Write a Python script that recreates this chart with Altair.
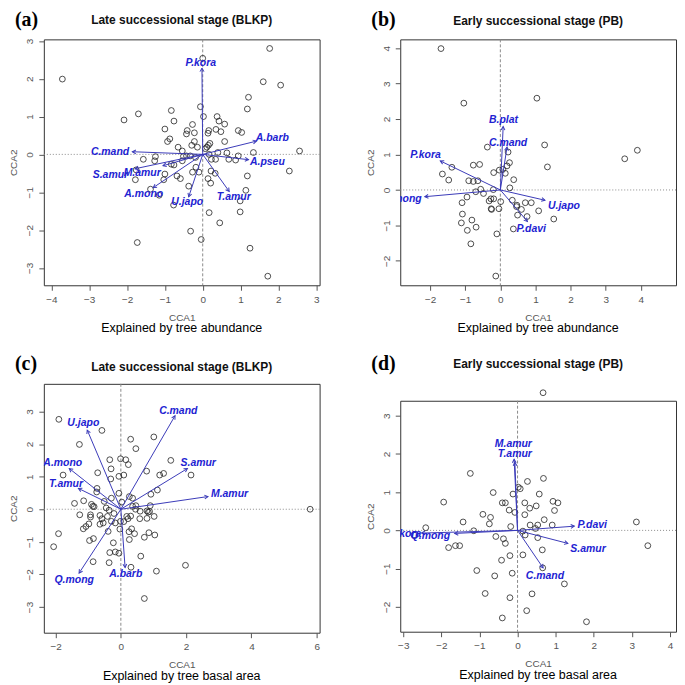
import math
import altair as alt
import pandas as pd

FONT = "Liberation Sans"
SERIF = "Liberation Serif"
ARROW = "#3a3ab8"
LABEL = "#2222d2"

# ---------------- panel (a) ----------------
a_px = [-3.71, 1.77, 1.60, 2.06, 0.00, 1.21, 1.18, -0.06, -1.70, -2.08, -0.83, -0.76, -1.00, -0.27, -0.41, -0.43,
        -0.87, -0.93, 0.02, 0.38, 0.43, 0.58, 0.35, 0.48, 0.58, 0.16, 0.14, -0.22, -0.22, 0.07, 0.11, 0.15, 0.19,
        -0.29, -0.14, -0.65, -0.54, -0.43, -0.33, 0.94, 1.03, 1.34, 0.94, 2.56, 2.29, 0.40, 0.64, 0.69, 0.87, 1.18,
        1.14, 0.99, 0.99, 0.17, 0.23, 0.34, 0.22, 0.33, 0.14, 0.21, 0.17, 0.45, -0.32, -0.04, 1.25, 1.72, -1.73,
        -1.25, -1.27, -1.57, -0.83, -0.76, -0.54, -0.51, -0.19, -0.18, -0.27, -0.10, -0.68, -0.59, -1.00, -1.03,
        -1.78, -1.38, -1.15, -0.37, -0.77, -1.76]
a_py = [1.99, 2.80, 1.92, 1.83, 2.54, 1.51, 1.20, 1.26, 1.07, 0.91, 1.16, 0.88, 0.67, 0.79, 0.63, 0.54,
        0.41, 0.34, 1.00, 1.00, 0.88, 0.80, 0.66, 0.60, 0.34, 0.63, 0.56, 0.57, 0.34, 0.15, 0.19, 0.24, 0.29,
        0.24, 0.19, 0.19, 0.09, -0.04, -0.04, 0.63, 0.58, 0.05, -0.04, 0.09, -0.44, 0.05, 0.04, -0.13, -0.15, -0.57,
        -0.95, -1.23, -1.52, 0.00, -0.13, -0.13, -0.44, -0.50, -0.64, -0.76, -1.54, -1.81, -2.03, -2.25, -2.48, -3.22, -2.33,
        -0.06, -0.17, -0.13, -0.26, -0.28, -0.17, -0.05, -0.08, -0.34, -0.47, -0.47, -0.57, -0.64, -0.52, -0.67,
        -0.67, -0.92, -1.08, -0.84, -1.34, -0.41]
a_sp = ["P.kora", "A.barb", "A.pseu", "T.amur", "U.japo", "A.mono", "M.amur", "S.amur", "C.mand"]
a_ax = [-0.02, 1.42, 1.21, 0.70, -0.37, -1.31, -1.05, -1.79, -1.86]
a_ay = [2.28, 0.35, -0.14, -0.98, -1.12, -0.88, -0.30, -0.38, 0.07]
a_lx = [-0.05, 1.84, 1.71, 0.82, -0.41, -1.56, -1.60, -2.44, -2.45]
a_ly = [2.41, 0.44, -0.19, -1.14, -1.27, -1.04, -0.48, -0.54, 0.06]
a_xticks = [-4, -3, -2, -1, 0, 1, 2, 3]
a_yticks = [-3, -2, -1, 0, 1, 2, 3]

# ---------------- panel (b) ----------------
b_px = [-1.69, -1.04, 1.04, 1.26, 1.34, 3.54, 3.90, -0.37, 0.22, -0.77, -0.59, -0.19, -0.03, 0.07, 0.26, 0.19,
        0.14, 0.38, 0.27, -1.38, -1.65, -1.47, -0.90, -0.77, -0.64, -0.56, -0.70, -0.48, -0.20, -0.95, -1.09,
        -1.08, -1.11, -0.81, -0.94, -0.69, -0.84, -0.32, -0.27, -0.19, -0.26, -0.25, -0.04, 0.01, -0.10, -0.13,
        0.34, 0.47, 0.49, 0.37, 0.71, 0.88, 0.76, 1.09, 1.52, 0.46, 0.60]
b_py = [3.99, 2.45, 2.59, 1.27, 0.65, 0.88, 1.12, 1.21, 1.07, 0.70, 0.72, 0.49, 0.56, 0.58, 0.77, 0.68,
        0.47, 0.29, 0.06, 0.64, 0.45, 0.28, 0.26, 0.24, 0.26, 0.02, -0.05, -0.10, 0.01, -0.20, -0.36,
        -0.68, -0.93, -0.85, -1.14, -1.05, -1.52, -0.31, -0.25, -0.25, -0.53, -0.55, -0.53, -0.33, -1.24, -2.43,
        -0.29, -0.43, -0.71, -1.10, -0.36, -0.36, -0.75, -0.59, -0.82, -0.47, -0.55]
b_sp = ["B.plat", "C.mand", "P.kora", "Q.mong", "U.japo", "P.davi"]
b_ax = [0.08, 0.19, -1.71, -2.15, 1.27, 0.77]
b_ay = [1.79, 1.21, 0.82, -0.19, -0.29, -0.89]
b_lx = [0.09, 0.22, -2.13, -2.80, 1.81, 0.88]
b_ly = [1.97, 1.33, 0.98, -0.25, -0.45, -1.10]
b_xticks = [-2, -1, 0, 1, 2, 3, 4]
b_yticks = [-2, -1, 0, 1, 2, 3, 4]

# ---------------- panel (c) ----------------
c_px = [-1.90, -1.27, -0.58, 0.30, 1.01, 0.46, -0.01, 0.15, 0.23, -0.34, -0.30, 0.09, -0.06, -0.31, -0.71, -0.73,
        -0.74, -1.77, 1.53, 2.15, 1.31, 1.19, 0.79, 1.12, 0.92, -0.06, -0.29, 0.26, 0.36, -0.51, -1.14, -1.42,
        0.03, -0.45, -0.36, -0.90, -0.86, -0.82, -1.26, -0.93, -0.93, -0.64, -0.58, -0.54, -0.64, -0.98, -1.07,
        -1.15, -0.41, -0.29, -0.17, -0.01, -0.03, -0.39, -0.84, -0.96, -1.91, -2.06, -0.85, -0.23, -0.34, -0.36,
        -0.17, -0.06, 0.31, 0.36, 0.46, 0.59, 0.45, 0.22, 0.30, 0.18, 0.58, 0.80, 0.84, 0.88, 0.90, 1.02, 0.80,
        0.33, 0.25, 0.42, 0.86, 0.72, 1.04, 0.26, 0.61, 1.09, 1.98, 0.72, 5.80, -0.21, 0.09]
c_py = [2.76, 1.99, 2.42, 2.15, 2.22, 1.86, 1.55, 1.52, 1.37, 1.52, 1.24, 1.05, 1.01, 0.93, 1.12, 0.64,
        0.53, 1.05, 1.50, 1.05, 1.10, 1.05, 1.17, 0.59, 0.46, 0.49, 0.34, 0.39, 0.34, 0.24, 0.26, 0.18,
        0.22, 0.04, -0.03, 0.15, 0.09, 0.08, -0.17, -0.17, -0.24, -0.19, -0.29, -0.42, -0.46, -0.45, -0.53,
        -0.60, -0.22, -0.37, -0.42, -0.37, -0.61, -0.68, -0.90, -0.96, -0.75, -1.15, -1.61, -1.03, -1.33, -1.64,
        -1.31, -1.35, -1.78, 0.09, 0.11, -0.06, 0.00, -0.29, -0.21, -0.22, -0.29, -0.05, -0.09, -0.07, 0.11, -0.22, -0.28,
        -0.60, -0.69, -0.75, -0.72, -0.86, -0.79, -0.93, -1.44, -1.90, -1.72, -2.74, 0.00, -0.13, -0.38]
c_sp = ["C.mand", "U.japo", "A.mono", "T.amur", "S.amur", "M.amur", "A.barb", "Q.mong"]
c_ax = [1.66, -1.03, -1.58, -1.30, 2.04, 2.67, 0.13, -1.28]
c_ay = [2.87, 2.43, 1.25, 0.64, 1.25, 0.39, -1.79, -1.96]
c_lx = [1.76, -1.15, -1.78, -1.68, 2.37, 3.33, 0.15, -1.43]
c_ly = [3.02, 2.64, 1.42, 0.79, 1.42, 0.46, -2.00, -2.16]
c_xticks = [-2, 0, 2, 4, 6]
c_yticks = [-3, -2, -1, 0, 1, 2, 3]

# ---------------- panel (d) ----------------
d_px = [0.67, -1.24, 0.68, 0.26, -1.94, -0.64, 0.02, 0.07, -0.12, 0.57, -0.40, -0.32, 0.19, 0.32, 0.49, 0.93,
        1.06, 0.97, -0.22, -0.07, 0.19, -0.91, -0.71, -0.74, -1.43, -2.41, -1.15, -0.18, 0.33, 0.53, 0.70, 0.91,
        0.47, 0.14, 0.20, 0.53, -0.57, -0.37, -0.32, -1.81, -1.63, -1.52, 0.65, 0.14, -0.20, -0.42, -1.07, -0.60,
        -0.14, 0.66, 1.23, -0.85, -0.20, 0.38, 0.24, -0.40, 1.81, 3.12, 3.42, -2.72]
d_py = [3.60, 1.49, 1.36, 1.28, 0.74, 0.99, 1.13, 1.09, 0.95, 0.95, 0.72, 0.72, 0.72, 0.58, 0.64, 0.76,
        0.72, 0.52, 0.53, 0.47, 0.41, 0.42, 0.34, 0.17, 0.22, 0.07, -0.01, 0.10, 0.14, 0.14, 0.28, 0.14,
        0.05, -0.02, -0.12, -0.19, -0.16, -0.22, -0.34, -0.45, -0.40, -0.40, -0.51, -0.64, -0.66, -0.78, -1.05, -1.19,
        -1.12, -0.98, -1.40, -1.65, -1.76, -1.66, -2.10, -2.29, -2.39, 0.22, -0.40, -0.12]
d_sp = ["M.amur", "T.amur", "P.davi", "S.amur", "C.mand", "P.kora", "Q.mong"]
d_ax = [-0.09, -0.07, 1.49, 1.32, 0.67, -2.52, -1.65]
d_ay = [1.86, 1.78, 0.11, -0.34, -0.98, -0.07, -0.08]
d_lx = [-0.11, -0.07, 1.96, 1.85, 0.72, -2.93, -2.29]
d_ly = [2.27, 1.99, 0.14, -0.49, -1.20, -0.10, -0.14]
d_xticks = [-3, -2, -1, 0, 1, 2, 3, 4]
d_yticks = [-2, -1, 0, 1, 2, 3]

LATE = "Late successional stage (BLKP)"
EARLY = "Early successional stage (PB)"
ABUND = "Explained by tree abundance"
BASAL = "Explained by tree basal area"


def panel(tag, title, note, px, py, sp, ax, ay, lx, ly, xdom, ydom, xt, yt, w, h, tag_y, title_y):
    pts = pd.DataFrame({"x": px, "y": py})
    kx = w / (xdom[1] - xdom[0])
    ky = h / (ydom[1] - ydom[0])
    ang = [(math.degrees(math.atan2(a * kx, b * ky)) + 360) % 360 for a, b in zip(ax, ay)]
    arr = pd.DataFrame({"sp": sp, "x0": [0.0] * len(sp), "y0": [0.0] * len(sp),
                        "ax": ax, "ay": ay, "lx": lx, "ly": ly, "ang": ang})
    zero = pd.DataFrame({"z": [0.0]})
    xs = alt.Scale(domain=xdom, nice=False, zero=False)
    ys = alt.Scale(domain=ydom, nice=False, zero=False)
    axx = alt.Axis(values=xt, title="CCA1", format="d")
    axy = alt.Axis(values=yt, title="CCA2", format="d")

    def X(f):
        return alt.X(f, type="quantitative", scale=xs, axis=axx)

    def Y(f):
        return alt.Y(f, type="quantitative", scale=ys, axis=axy)

    vline = alt.Chart(zero).mark_rule(color="#8a8a8a", strokeDash=[3, 2], strokeWidth=1).encode(x=X("z"))
    hline = alt.Chart(zero).mark_rule(color="#8a8a8a", strokeDash=[1, 2], strokeWidth=1).encode(y=Y("z"))
    points = alt.Chart(pts).mark_point(shape="circle", filled=False, size=34, color="#222222",
                                       strokeWidth=0.8, opacity=1).encode(x=X("x"), y=Y("y"))
    shafts = alt.Chart(arr).mark_rule(color=ARROW, strokeWidth=1).encode(
        x=X("x0"), y=Y("y0"), x2="ax:Q", y2="ay:Q")
    heads = alt.Chart(arr).mark_point(shape="M -0.55 1 L 0 0 L 0.55 1", filled=False, size=49,
                                      color=ARROW, strokeWidth=1, opacity=1).encode(
        x=X("ax"), y=Y("ay"), angle=alt.Angle("ang:Q", scale=None))
    labels = alt.Chart(arr).mark_text(font=FONT, fontStyle="italic", fontWeight="bold", fontSize=10.5,
                                      color=LABEL, clip=True).encode(x=X("lx"), y=Y("ly"), text="sp:N")
    ann = pd.DataFrame({"tag": [tag], "title": [title], "note": [note]})
    tag_t = alt.Chart(ann).mark_text(font=SERIF, fontWeight="bold", fontSize=20, align="left",
                                     baseline="alphabetic", color="black").encode(
        x=alt.value(-29), y=alt.value(tag_y), text="tag:N")
    title_t = alt.Chart(ann).mark_text(font=FONT, fontWeight="bold", fontSize=12, align="center",
                                       baseline="middle", color="#111111").encode(
        x=alt.value(w / 2), y=alt.value(title_y), text="title:N")
    note_t = alt.Chart(ann).mark_text(font=FONT, fontSize=12.5, align="center", baseline="middle",
                                      color="black").encode(
        x=alt.value(w / 2), y=alt.value(h + 43), text="note:N")
    return alt.layer(vline, hline, points, shafts, heads, labels, tag_t, title_t, note_t).properties(
        width=w, height=h)


W = 277
H1 = 247
H2 = 250
HD = 232

pa = panel("(a)", LATE, ABUND, a_px, a_py, a_sp, a_ax, a_ay, a_lx, a_ly,
           [-4.20, 3.09], [-3.46, 3.04], a_xticks, a_yticks, W, H1, -13, -19)
pb = panel("(b)", EARLY, ABUND, b_px, b_py, b_sp, b_ax, b_ay, b_lx, b_ly,
           [-2.85, 5.0], [-2.69, 4.25], b_xticks, b_yticks, W, H1, -13, -18)
pc = panel("(c)", LATE, BASAL, c_px, c_py, c_sp, c_ax, c_ay, c_lx, c_ly,
           [-2.36, 6.09], [-3.79, 3.85], c_xticks, c_yticks, W, H2, -14, -17)
pdd = panel("(d)", EARLY, BASAL, d_px, d_py, d_sp, d_ax, d_ay, d_lx, d_ly,
            [-3.08, 4.16], [-2.65, 3.39], d_xticks, d_yticks, W, HD, -31, -37)

chart = alt.hconcat(
    alt.vconcat(pa, pc, spacing=18),
    alt.vconcat(pb, pdd, spacing=18),
    spacing=44,
).properties(padding=0).configure_view(
    stroke="#333333", strokeWidth=1
).configure_axis(
    domain=False, grid=False, tickColor="#555555", tickSize=5, tickWidth=1,
    labelColor="#555555", labelFont=FONT, labelFontSize=10,
    titleColor="#555555", titleFont=FONT, titleFontSize=10, titleFontWeight="normal"
).configure_axisX(
    labelPadding=4, titlePadding=8
).configure_axisY(
    labelAngle=270, labelAlign="center", labelBaseline="bottom", labelPadding=4, titlePadding=6
)

chart.save("out.html", embed_options={"renderer": "svg", "actions": False})
